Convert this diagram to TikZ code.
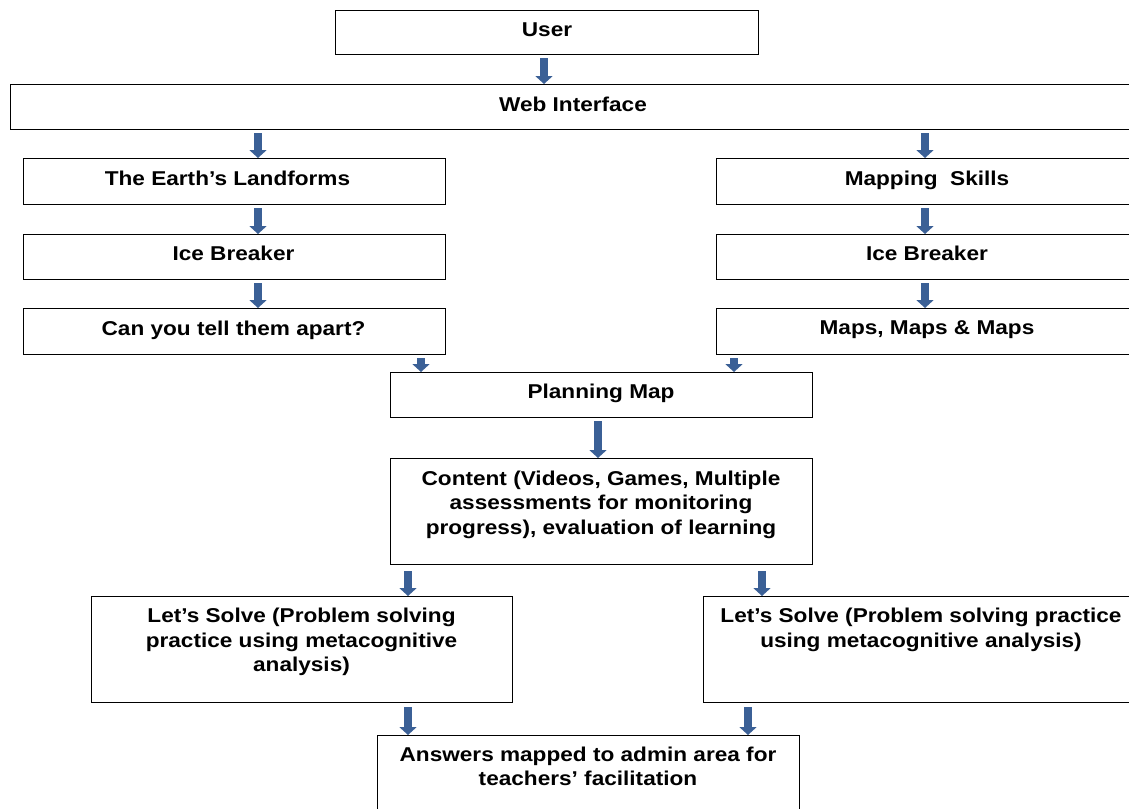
\documentclass[tikz,border=0pt]{standalone}
\usepackage{fontspec}
\setmainfont[FakeStretch=1.13]{Liberation Sans}
\usetikzlibrary{arrows.meta}
\definecolor{arrowblue}{RGB}{59,96,150}
\begin{document}
\begin{tikzpicture}[x=1pt,y=-1pt,
 box/.style={draw=black, line width=1.4pt, anchor=north west, inner sep=0pt},
 lbl/.style={anchor=north, inner sep=0pt, align=center, font=\fontsize{20}{24.5}\selectfont\bfseries},
 barrow/.style={draw=arrowblue, line width=8pt, -{Triangle[width=17pt,length=8pt]}}]
\useasboundingbox (0,0) rectangle (1129,808);
\clip (0,0) rectangle (1129,808);
\fill[white] (0,0) rectangle (1129,808);
% boxes
\node[box, minimum width=423, minimum height=44] (user) at (335,10) {};
\node[box, minimum width=1130, minimum height=45] (web) at (10,84) {};
\node[box, minimum width=422, minimum height=46] (lf) at (23,158) {};
\node[box, minimum width=424, minimum height=46] (ms) at (716,158) {};
\node[box, minimum width=422, minimum height=45] (ib1) at (23,234) {};
\node[box, minimum width=424, minimum height=45] (ib2) at (716,234) {};
\node[box, minimum width=422, minimum height=46] (cy) at (23,308) {};
\node[box, minimum width=424, minimum height=46] (mm) at (716,308) {};
\node[box, minimum width=422, minimum height=45] (pm) at (390,372) {};
\node[box, minimum width=422, minimum height=106] (ct) at (390,458) {};
\node[box, minimum width=421, minimum height=106] (ls1) at (91,596) {};
\node[box, minimum width=436, minimum height=106] (ls2) at (703,596) {};
\node[box, minimum width=422, minimum height=90] (ans) at (377,735) {};
% labels
\node[lbl] (userT) at ([xshift=212pt,yshift=-12.5pt]user.north west) {User};
\node[lbl] (webT) at ([xshift=563pt,yshift=-12.5pt]web.north west) {Web Interface};
\node[lbl] (lfT) at ([xshift=204.5pt,yshift=-12.5pt]lf.north west) {The Earth’s Landforms};
\node[lbl] (ib1T) at ([xshift=210.5pt,yshift=-12pt]ib1.north west) {Ice Breaker};
\node[lbl] (cyT) at ([xshift=210.5pt,yshift=-12.5pt]cy.north west) {Can you tell them apart?};
\node[lbl] (msT) at ([xshift=211pt,yshift=-12.5pt]ms.north west) {Mapping~ Skills};
\node[lbl] (ib2T) at ([xshift=211pt,yshift=-12pt]ib2.north west) {Ice Breaker};
\node[lbl] (mmT) at ([xshift=211pt,yshift=-12.5pt]mm.north west) {Maps, Maps \& Maps};
\node[lbl] (pmT) at ([xshift=211pt,yshift=-11.5pt]pm.north west) {Planning Map};
\node[lbl] (ctT) at ([xshift=211pt,yshift=-12.5pt]ct.north west) {Content (Videos, Games, Multiple\\assessments for monitoring\\progress), evaluation of learning};
\node[lbl] (ls1T) at ([xshift=210.5pt,yshift=-12pt]ls1.north west) {Let’s Solve (Problem solving\\practice using metacognitive\\analysis)};
\node[lbl] (ls2T) at ([xshift=218pt,yshift=-12pt]ls2.north west) {Let’s Solve (Problem solving practice\\using metacognitive analysis)};
\node[lbl] (ansT) at ([xshift=211pt,yshift=-11.5pt]ans.north west) {Answers mapped to admin area for\\teachers’ facilitation};
% arrows
\draw[barrow] ([xshift=209pt,yshift=-3pt]user.south west) -- ([xshift=534pt]web.north west);
\draw[barrow] ([xshift=248pt,yshift=-3pt]web.south west) -- ([xshift=235pt]lf.north west);
\draw[barrow] ([xshift=915pt,yshift=-3pt]web.south west) -- ([xshift=209pt]ms.north west);
\draw[barrow] ([xshift=235pt,yshift=-3pt]lf.south west) -- ([xshift=235pt]ib1.north west);
\draw[barrow] ([xshift=209pt,yshift=-3pt]ms.south west) -- ([xshift=209pt]ib2.north west);
\draw[barrow] ([xshift=235pt,yshift=-3pt]ib1.south west) -- ([xshift=235pt]cy.north west);
\draw[barrow] ([xshift=209pt,yshift=-3pt]ib2.south west) -- ([xshift=209pt]mm.north west);
\draw[barrow] ([xshift=398pt,yshift=-3pt]cy.south west) -- ([xshift=31pt]pm.north west);
\draw[barrow] ([xshift=18pt,yshift=-3pt]mm.south west) -- ([xshift=344pt]pm.north west);
\draw[barrow] ([xshift=208pt,yshift=-3pt]pm.south west) -- ([xshift=208pt]ct.north west);
\draw[barrow] ([xshift=18pt,yshift=-6pt]ct.south west) -- ([xshift=317pt]ls1.north west);
\draw[barrow] ([xshift=372pt,yshift=-6pt]ct.south west) -- ([xshift=59pt]ls2.north west);
\draw[barrow] ([xshift=317pt,yshift=-4pt]ls1.south west) -- ([xshift=31pt]ans.north west);
\draw[barrow] ([xshift=45pt,yshift=-4pt]ls2.south west) -- ([xshift=371pt]ans.north west);
\end{tikzpicture}
\end{document}
